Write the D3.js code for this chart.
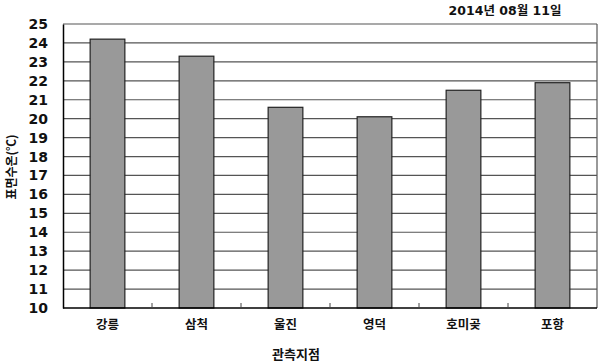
<!DOCTYPE html>
<html><head><meta charset="utf-8">
<script src="https://cdn.jsdelivr.net/npm/d3@7"></script>
<style>body{margin:0;background:#fff}</style>
</head><body>
<script>
const categories = ["강릉","삼척","울진","영덕","호미곶","포항"];
const values = [24.2, 23.3, 20.6, 20.1, 21.5, 21.9];
const yTicks = [10,11,12,13,14,15,16,17,18,19,20,21,22,23,24,25];
const title = "2014년 08월 11일";
const yTitle = "표면수온(℃)";
const xTitle = "관측지점";

const W=601,H=364;
const m={l:63,r:4,t:24,b:56};
const svg=d3.select("body").append("svg").attr("width",W).attr("height",H);
const x=d3.scaleBand().domain(categories).range([m.l,W-m.r]).paddingInner(0.61).paddingOuter(0.305);
const y=d3.scaleLinear().domain([10,25]).range([H-m.b,m.t]);
const font="'Noto Sans CJK KR','Noto Sans',sans-serif";
const numFont="'DejaVu Sans','Liberation Sans',sans-serif";

// gridlines
svg.append("g").selectAll("line").data(yTicks.filter(d=>d>10)).join("line")
 .attr("x1",m.l).attr("x2",W-m.r).attr("y1",d=>y(d)).attr("y2",d=>y(d))
 .attr("stroke","#555").attr("stroke-width",1.2);
// right border
svg.append("line").attr("x1",W-m.r).attr("x2",W-m.r).attr("y1",m.t).attr("y2",H-m.b).attr("stroke","#555").attr("stroke-width",1.2);

// bars
svg.append("g").selectAll("rect").data(values).join("rect")
 .attr("x",(d,i)=>x(categories[i])).attr("width",x.bandwidth())
 .attr("y",d=>y(d)).attr("height",d=>y(10)-y(d))
 .attr("fill","#999999").attr("stroke","#222").attr("stroke-width",1.2);

// y axis
const ya=svg.append("g").attr("transform",`translate(${m.l},0)`)
 .call(d3.axisLeft(y).tickValues(yTicks).tickSize(0).tickPadding(15).tickFormat(d3.format("d")));
ya.select(".domain").attr("stroke","#000").attr("stroke-width",1.5);
ya.selectAll("text").attr("font-family",numFont).attr("font-weight","bold").attr("font-size",14).attr("fill","#111");

// x axis
const step=x.step();
const gap=(step-x.bandwidth())/2;
const xa=svg.append("g").attr("transform",`translate(0,${H-m.b})`);
xa.append("line").attr("x1",m.l).attr("x2",W-m.r).attr("stroke","#000").attr("stroke-width",1.5);
xa.selectAll(".tk").data(categories.slice(1)).join("line").attr("class","tk")
 .attr("x1",d=>x(d)-gap).attr("x2",d=>x(d)-gap)
 .attr("y1",0).attr("y2",-5).attr("stroke","#444");
xa.selectAll("text").data(categories).join("text")
 .attr("x",d=>x(d)+x.bandwidth()/2).attr("y",21).attr("text-anchor","middle")
 .attr("font-family",font).attr("font-weight","bold").attr("font-size",12.5).attr("fill","#111").text(d=>d);

svg.append("text").attr("x",296).attr("y",359).attr("text-anchor","middle")
 .attr("font-family",font).attr("font-weight","bold").attr("font-size",13).attr("fill","#111").text(xTitle);
svg.append("text").attr("transform","translate(16,167) rotate(-90)").attr("text-anchor","middle")
 .attr("font-family",font).attr("font-weight","bold").attr("font-size",12).attr("fill","#111").text(yTitle);
svg.append("text").attr("x",505).attr("y",15).attr("text-anchor","middle")
 .attr("font-family","'DejaVu Sans','Noto Sans CJK KR',sans-serif").attr("font-weight","bold").attr("font-size",12.5).attr("fill","#111").text(title);
</script>
</body></html>
